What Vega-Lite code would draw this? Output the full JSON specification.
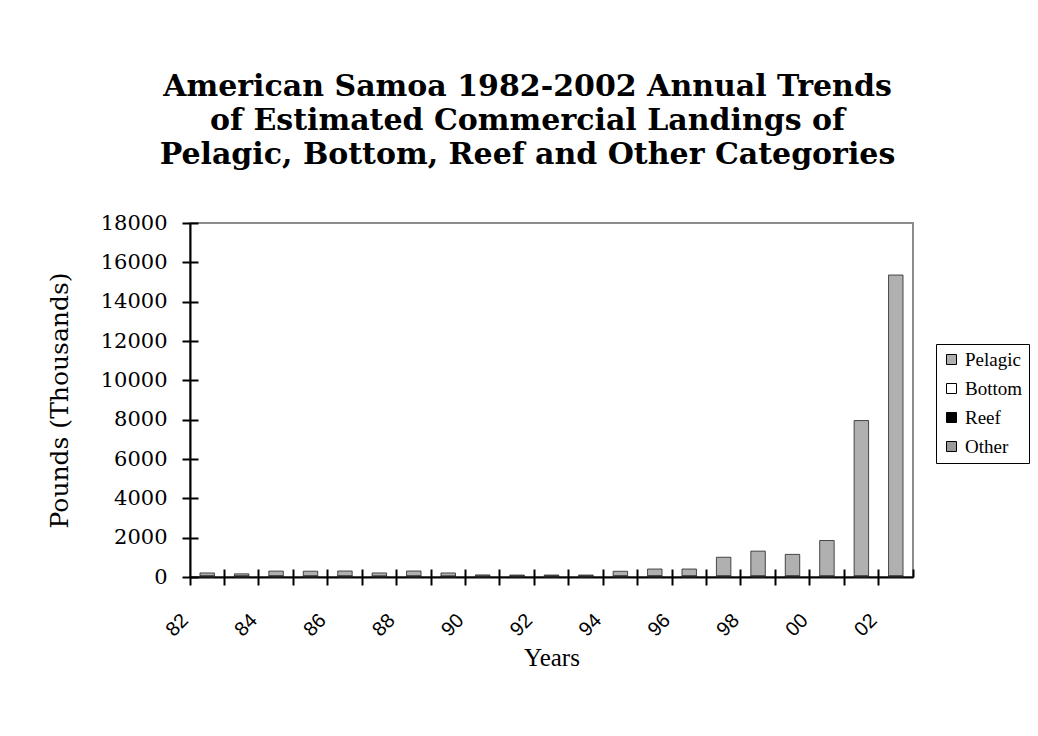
{
  "$schema": "https://vega.github.io/schema/vega-lite/v6.json",
  "width": 723,
  "height": 354,
  "autosize": "none",
  "padding": {"left": 190, "top": 223, "right": 125, "bottom": 159},
  "background": "white",
  "title": {
    "text": ["American Samoa 1982-2002 Annual Trends", "of Estimated Commercial Landings of", "Pelagic, Bottom, Reef and Other Categories"],
    "font": "DejaVu Serif", "fontSize": 30, "fontWeight": "bold", "color": "black",
    "lineHeight": 34, "anchor": "middle", "dx": -24, "offset": 42
  },
  "data": {"values": [
    {"Year": "82", "Category": "Pelagic", "Pounds": 150}, {"Year": "82", "Category": "Bottom", "Pounds": 30}, {"Year": "82", "Category": "Reef", "Pounds": 20}, {"Year": "82", "Category": "Other", "Pounds": 5},
    {"Year": "83", "Category": "Pelagic", "Pounds": 110}, {"Year": "83", "Category": "Bottom", "Pounds": 30}, {"Year": "83", "Category": "Reef", "Pounds": 15}, {"Year": "83", "Category": "Other", "Pounds": 5},
    {"Year": "84", "Category": "Pelagic", "Pounds": 240}, {"Year": "84", "Category": "Bottom", "Pounds": 35}, {"Year": "84", "Category": "Reef", "Pounds": 20}, {"Year": "84", "Category": "Other", "Pounds": 5},
    {"Year": "85", "Category": "Pelagic", "Pounds": 240}, {"Year": "85", "Category": "Bottom", "Pounds": 30}, {"Year": "85", "Category": "Reef", "Pounds": 20}, {"Year": "85", "Category": "Other", "Pounds": 5},
    {"Year": "86", "Category": "Pelagic", "Pounds": 250}, {"Year": "86", "Category": "Bottom", "Pounds": 30}, {"Year": "86", "Category": "Reef", "Pounds": 20}, {"Year": "86", "Category": "Other", "Pounds": 5},
    {"Year": "87", "Category": "Pelagic", "Pounds": 160}, {"Year": "87", "Category": "Bottom", "Pounds": 25}, {"Year": "87", "Category": "Reef", "Pounds": 15}, {"Year": "87", "Category": "Other", "Pounds": 5},
    {"Year": "88", "Category": "Pelagic", "Pounds": 250}, {"Year": "88", "Category": "Bottom", "Pounds": 30}, {"Year": "88", "Category": "Reef", "Pounds": 20}, {"Year": "88", "Category": "Other", "Pounds": 5},
    {"Year": "89", "Category": "Pelagic", "Pounds": 160}, {"Year": "89", "Category": "Bottom", "Pounds": 25}, {"Year": "89", "Category": "Reef", "Pounds": 15}, {"Year": "89", "Category": "Other", "Pounds": 5},
    {"Year": "90", "Category": "Pelagic", "Pounds": 60}, {"Year": "90", "Category": "Bottom", "Pounds": 25}, {"Year": "90", "Category": "Reef", "Pounds": 15}, {"Year": "90", "Category": "Other", "Pounds": 5},
    {"Year": "91", "Category": "Pelagic", "Pounds": 50}, {"Year": "91", "Category": "Bottom", "Pounds": 30}, {"Year": "91", "Category": "Reef", "Pounds": 15}, {"Year": "91", "Category": "Other", "Pounds": 5},
    {"Year": "92", "Category": "Pelagic", "Pounds": 50}, {"Year": "92", "Category": "Bottom", "Pounds": 30}, {"Year": "92", "Category": "Reef", "Pounds": 15}, {"Year": "92", "Category": "Other", "Pounds": 5},
    {"Year": "93", "Category": "Pelagic", "Pounds": 50}, {"Year": "93", "Category": "Bottom", "Pounds": 30}, {"Year": "93", "Category": "Reef", "Pounds": 15}, {"Year": "93", "Category": "Other", "Pounds": 5},
    {"Year": "94", "Category": "Pelagic", "Pounds": 230}, {"Year": "94", "Category": "Bottom", "Pounds": 35}, {"Year": "94", "Category": "Reef", "Pounds": 20}, {"Year": "94", "Category": "Other", "Pounds": 5},
    {"Year": "95", "Category": "Pelagic", "Pounds": 340}, {"Year": "95", "Category": "Bottom", "Pounds": 40}, {"Year": "95", "Category": "Reef", "Pounds": 20}, {"Year": "95", "Category": "Other", "Pounds": 5},
    {"Year": "96", "Category": "Pelagic", "Pounds": 350}, {"Year": "96", "Category": "Bottom", "Pounds": 30}, {"Year": "96", "Category": "Reef", "Pounds": 20}, {"Year": "96", "Category": "Other", "Pounds": 5},
    {"Year": "97", "Category": "Pelagic", "Pounds": 950}, {"Year": "97", "Category": "Bottom", "Pounds": 30}, {"Year": "97", "Category": "Reef", "Pounds": 20}, {"Year": "97", "Category": "Other", "Pounds": 5},
    {"Year": "98", "Category": "Pelagic", "Pounds": 1260}, {"Year": "98", "Category": "Bottom", "Pounds": 30}, {"Year": "98", "Category": "Reef", "Pounds": 20}, {"Year": "98", "Category": "Other", "Pounds": 5},
    {"Year": "99", "Category": "Pelagic", "Pounds": 1090}, {"Year": "99", "Category": "Bottom", "Pounds": 35}, {"Year": "99", "Category": "Reef", "Pounds": 20}, {"Year": "99", "Category": "Other", "Pounds": 5},
    {"Year": "00", "Category": "Pelagic", "Pounds": 1800}, {"Year": "00", "Category": "Bottom", "Pounds": 30}, {"Year": "00", "Category": "Reef", "Pounds": 20}, {"Year": "00", "Category": "Other", "Pounds": 5},
    {"Year": "01", "Category": "Pelagic", "Pounds": 7900}, {"Year": "01", "Category": "Bottom", "Pounds": 30}, {"Year": "01", "Category": "Reef", "Pounds": 20}, {"Year": "01", "Category": "Other", "Pounds": 5},
    {"Year": "02", "Category": "Pelagic", "Pounds": 15300}, {"Year": "02", "Category": "Bottom", "Pounds": 30}, {"Year": "02", "Category": "Reef", "Pounds": 20}, {"Year": "02", "Category": "Other", "Pounds": 5}
  ]},
  "transform": [
    {"calculate": "indexof(['Other','Reef','Bottom','Pelagic'], datum.Category)", "as": "stackOrder"}
  ],
  "layer": [
    {
      "mark": {"type": "bar", "width": {"band": 0.42}, "stroke": "#222222", "strokeWidth": 0.8},
      "encoding": {
        "x": {"field": "Year", "type": "ordinal", "sort": null,
              "scale": {"paddingInner": 0, "paddingOuter": 0},
              "axis": {"bandPosition": 0, "labels": false, "title": null, "domainColor": "black", "domainWidth": 2,
                       "tickColor": "black", "tickWidth": 2, "tickSize": 8, "grid": false, "orient": "bottom"}},
        "y": {"field": "Pounds", "type": "quantitative", "stack": "zero",
              "scale": {"domain": [0, 18000], "nice": false},
              "axis": {"values": [0, 2000, 4000, 6000, 8000, 10000, 12000, 14000, 16000, 18000], "format": "d",
                       "orient": "left", "grid": false, "domainColor": "black", "domainWidth": 2,
                       "tickColor": "black", "tickWidth": 2, "tickSize": 8,
                       "labelFont": "DejaVu Serif", "labelFontSize": 21, "labelColor": "black", "labelPadding": 15,
                       "title": "Pounds (Thousands)", "titleFont": "DejaVu Serif", "titleFontSize": 25,
                       "titleFontWeight": "normal", "titleColor": "black", "titlePadding": 28}},
        "color": {"field": "Category", "type": "nominal",
                  "scale": {"domain": ["Pelagic", "Bottom", "Reef", "Other"], "range": ["#b0b0b0", "#ffffff", "#000000", "#9a9a9a"]},
                  "legend": {"orient": "none", "legendX": 746, "legendY": 121, "title": null,
                             "strokeColor": "black", "fillColor": "white", "padding": 6, "rowPadding": 9,
                             "symbolType": "square", "symbolSize": 100, "symbolStrokeColor": "black", "symbolStrokeWidth": 1,
                             "labelFont": "Liberation Serif", "labelFontSize": 19, "labelColor": "black", "labelOffset": 4}},
        "order": {"field": "stackOrder"}
      }
    },
    {
      "mark": {"type": "bar", "width": {"band": 0.42}, "opacity": 0},
      "encoding": {
        "x": {"field": "Year", "type": "ordinal", "sort": null,
              "axis": {"bandPosition": 1, "offset": -8, "labels": false, "title": null, "domain": false,
                       "tickColor": "black", "tickWidth": 2, "tickSize": 8, "grid": false, "orient": "bottom"}},
        "y": {"field": "Pounds", "type": "quantitative", "stack": "zero",
              "axis": {"values": [0, 2000, 4000, 6000, 8000, 10000, 12000, 14000, 16000, 18000],
                       "orient": "left", "offset": -8, "grid": false, "domain": false, "labels": false, "title": null,
                       "tickColor": "black", "tickWidth": 2, "tickSize": 8}},
        "order": {"field": "stackOrder"}
      }
    },
    {
      "mark": {"type": "bar", "width": {"band": 0.42}, "opacity": 0},
      "encoding": {
        "x": {"field": "Year", "type": "ordinal", "sort": null,
              "axis": {"values": ["82", "84", "86", "88", "90", "92", "94", "96", "98", "00", "02"],
                       "orient": "bottom", "ticks": false, "domain": false, "grid": false,
                       "labelAngle": -45, "labelAlign": "right", "labelBaseline": "middle",
                       "labelFont": "Liberation Sans", "labelFontSize": 20, "labelColor": "black",
                       "labelPadding": 40, "labelOffset": -22,
                       "title": "Years", "titleFont": "Liberation Serif", "titleFontSize": 25,
                       "titleFontWeight": "normal", "titleColor": "black", "titlePadding": 6}},
        "y": {"field": "Pounds", "type": "quantitative", "stack": "zero", "axis": null},
        "order": {"field": "stackOrder"}
      }
    }
  ],
  "resolve": {"axis": {"x": "independent", "y": "independent"}},
  "config": {"view": {"stroke": "#8c8c8c", "strokeWidth": 2}}
}
